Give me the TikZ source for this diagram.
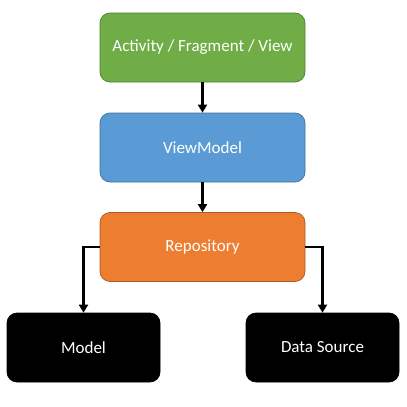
\documentclass[tikz,border=0pt]{standalone}
\usepackage{fontspec}
\setmainfont{Carlito}
\usetikzlibrary{arrows.meta}
\definecolor{ogreen}{HTML}{70AD47}
\definecolor{ogreenb}{HTML}{507E32}
\definecolor{oblue}{HTML}{5B9BD5}
\definecolor{oblueb}{HTML}{41719C}
\definecolor{oorange}{HTML}{ED7D31}
\definecolor{oorangeb}{HTML}{AE5A21}
\begin{document}
\begin{tikzpicture}[x=1pt,y=-1pt,
  box/.style={rounded corners=10pt, minimum height=69pt, text=white, font=\fontsize{17}{20}\selectfont, line width=0.7pt, inner sep=0pt},
  wide/.style={box, minimum width=205pt},
  narrow/.style={box, minimum width=153pt},
  conn/.style={line width=2.6pt, -{Triangle[length=8pt,width=9pt]}}]
\useasboundingbox (0,0) rectangle (407,407);
\node[wide, fill=ogreen, draw=ogreenb] (act) at (202.5,47.5) {Activity / Fragment / View};
\node[wide, fill=oblue, draw=oblueb] (vm) at (202.5,147.5) {ViewModel};
\node[wide, fill=oorange, draw=oorangeb] (repo) at (202.5,247) {Repository};
\node[narrow, fill=black, draw=black] (model) at (83.5,347.5) {Model};
\node[narrow, fill=black, draw=black] (ds) at (322.5,347.5) {Data Source};
\draw[conn] (act) -- (vm);
\draw[conn] (vm) -- (repo);
\draw[conn] (repo.west) -| (model.north);
\draw[conn] (repo.east) -| (ds.north);
\end{tikzpicture}
\end{document}
